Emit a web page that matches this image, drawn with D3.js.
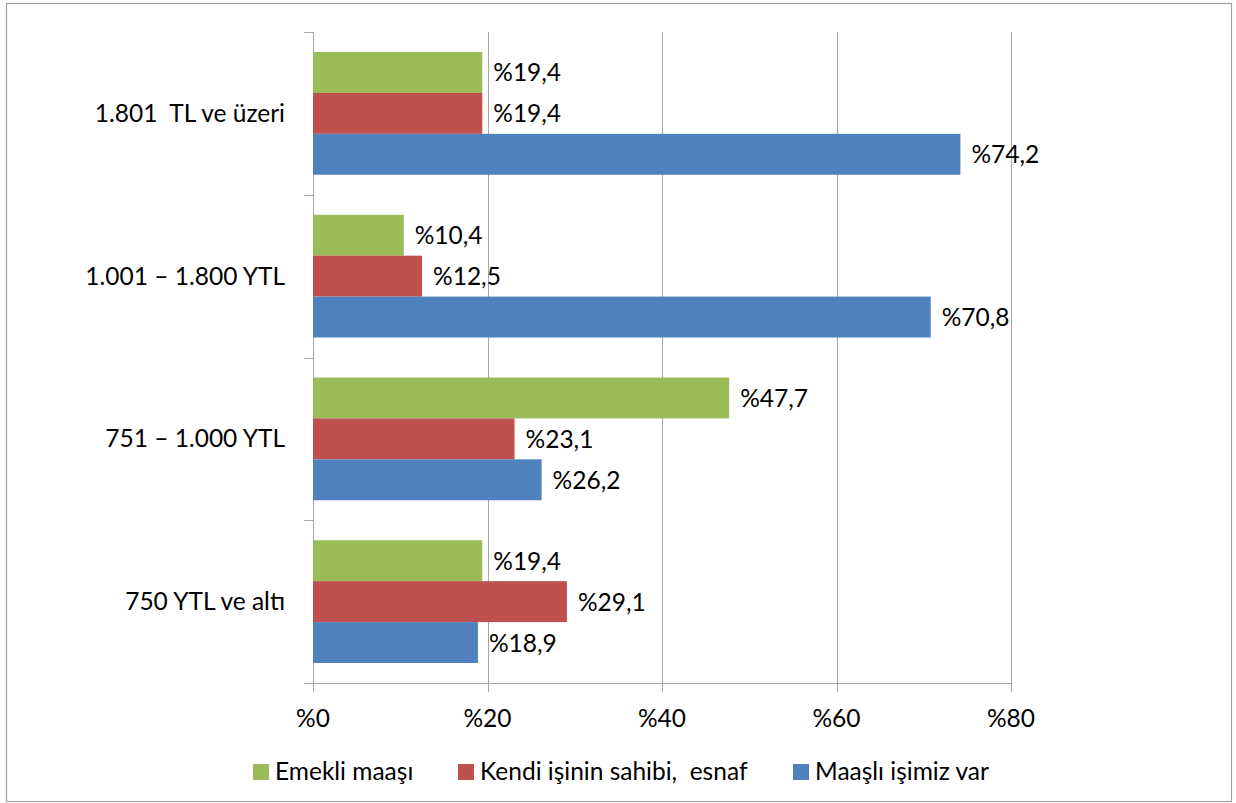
<!DOCTYPE html>
<html>
<head>
<meta charset="utf-8">
<title>Gelir grubuna göre</title>
<style>
  body { margin: 0; background: #fff; }
  svg text { font-family: Lato, "Open Sans", sans-serif; font-size: 24.5px; fill: #000; white-space: pre; }
  .grid line { stroke: #a6a6a6; stroke-width: 1; shape-rendering: crispEdges; }
</style>
</head>
<body>
<script src="https://d3js.org/d3.v7.min.js"></script>
<script>
var categories = ["1.801  TL ve üzeri", "1.001 – 1.800 YTL", "751 – 1.000 YTL", "750 YTL ve altı"];
var seriesNames = ["Emekli maaşı", "Kendi işinin sahibi,  esnaf", "Maaşlı işimiz var"];
var seriesColors = ["#9bbb59", "#c0504d", "#4f81bd"];
var emekli = [19.4, 10.4, 47.7, 19.4];
var kendi = [19.4, 12.5, 23.1, 29.1];
var maasli = [74.2, 70.8, 26.2, 18.9];
var xTicks = [0, 20, 40, 60, 80];

var seriesValues = [emekli, kendi, maasli];

var W = 1236, H = 803;
var svg = d3.select("body").append("svg").attr("width", W).attr("height", H);

// outer frame
svg.append("rect")
    .attr("x", 6.5).attr("y", 3.5)
    .attr("width", 1225).attr("height", 798)
    .attr("fill", "#fff").attr("stroke", "#a0a0a0").attr("stroke-width", 1.2);

var x = d3.scaleLinear().domain([0, 80]).range([313, 1011]);
var y0 = d3.scaleBand().domain(categories).range([32, 683]);
var y1 = d3.scaleBand().domain(seriesNames).range([20, y0.bandwidth() - 20]);

// vertical gridlines (with tick marks below axis)
var grid = svg.append("g").attr("class", "grid");
grid.selectAll("line.v").data(xTicks).enter().append("line")
    .attr("x1", function (d) { return Math.round(x(d)) + 0.5; })
    .attr("x2", function (d) { return Math.round(x(d)) + 0.5; })
    .attr("y1", 32).attr("y2", 692);

// x axis line
grid.append("line").attr("x1", 304).attr("x2", x(80)).attr("y1", 683.5).attr("y2", 683.5);

// y axis ticks between categories
var yTickPos = categories.map(function (c) { return y0(c); }).concat([683]);
grid.selectAll("line.yt").data(yTickPos).enter().append("line")
    .attr("x1", 304).attr("x2", 313)
    .attr("y1", function (d) { return Math.round(d) + 0.5; })
    .attr("y2", function (d) { return Math.round(d) + 0.5; });

// bars
var groups = svg.append("g").selectAll("g").data(categories).enter().append("g")
    .attr("transform", function (c) { return "translate(0," + y0(c) + ")"; });

groups.each(function (c, ci) {
  var g = d3.select(this);
  seriesNames.forEach(function (s, si) {
    var v = seriesValues[si][ci];
    g.append("rect")
        .attr("x", x(0))
        .attr("y", y1(s))
        .attr("width", x(v) - x(0))
        .attr("height", y1.bandwidth())
        .attr("fill", seriesColors[si]);
    g.append("text")
        .attr("x", x(v) + 11)
        .attr("y", y1(s) + y1.bandwidth() / 2 + 9)
        .text("%" + String(v.toFixed(1)).replace(".", ","));
  });
});

// y axis line
grid.append("line").attr("x1", 313.5).attr("x2", 313.5).attr("y1", 32).attr("y2", 692);

// category labels
svg.append("g").selectAll("text").data(categories).enter().append("text")
    .attr("x", 285)
    .attr("y", function (c) { return y0(c) + y0.bandwidth() / 2 + 8.5; })
    .attr("text-anchor", "end")
    .text(function (c) { return c; });

// x tick labels
svg.append("g").selectAll("text").data(xTicks).enter().append("text")
    .attr("x", function (d) { return x(d); })
    .attr("y", 727)
    .attr("text-anchor", "middle")
    .text(function (d) { return "%" + d; });

// legend
var legendX = [253, 458, 793];
var legend = svg.append("g").selectAll("g").data(seriesNames).enter().append("g")
    .attr("transform", function (d, i) { return "translate(" + legendX[i] + ",764)"; });
legend.append("rect").attr("width", 16).attr("height", 16)
    .attr("fill", function (d, i) { return seriesColors[i]; });
legend.append("text").attr("x", 22).attr("y", 15.5).text(function (d) { return d; });
</script>
</body>
</html>
